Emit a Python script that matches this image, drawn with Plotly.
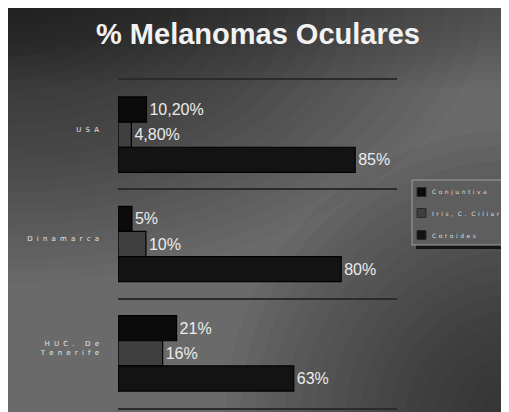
import plotly.graph_objects as go

categories = ["USA", "Dinamarca", "HUC. De<br>Tenerife"]
series_names = ["Conjuntiva", "Iris, C. Ciliar", "Coroides"]
conjuntiva = [10.2, 5, 21]
iris = [4.8, 10, 16]
coroides = [85, 80, 63]
labels_conj = ["10,20%", "5%", "21%"]
labels_iris = ["4,80%", "10%", "16%"]
labels_cor = ["85%", "80%", "63%"]
series_colors = ["#0b0b0b", "#3f3f3f", "#131313"]


def spaced(s, sep, wordsep):
    lines = []
    for line in s.split("<br>"):
        words = [sep.join(list(w)) for w in line.split(" ")]
        lines.append(wordsep.join(words))
    return "<br>".join(lines)


tick_text = [spaced(c, "\u2002\u200a", "\u2003\u2002") for c in categories]

series = [
    (series_names[0], conjuntiva, labels_conj, series_colors[0]),
    (series_names[1], iris, labels_iris, series_colors[1]),
    (series_names[2], coroides, labels_cor, series_colors[2]),
]

fig = go.Figure()
for name, vals, labs, col in series:
    fig.add_trace(go.Bar(
        y=categories, x=vals, orientation="h", name=name,
        text=labs, textposition="outside", cliponaxis=False, constraintext="none",
        textfont=dict(family="Liberation Sans, Arial", size=16, color="#ececec"),
        marker=dict(color=col, line=dict(color="#000000", width=1.2)),
        hoverinfo="x+y", showlegend=False,
    ))

# page body has an 8px margin; reference pixel coords are converted accordingly
OFF = 8
W, H = 509 - OFF, 412 - OFF
L, R, T, B = 118 - OFF, W - (397 - OFF), 80 - OFF, H - (408 - OFF)
pw, ph = W - L - R, H - T - B


def px(x):
    return (x - OFF - L) / pw


def py(y):
    return (H - B - (y - OFF)) / ph


shapes = [
    dict(type="rect", xref="paper", yref="paper", x0=px(0), x1=px(520), y0=py(420), y1=py(0),
         fillcolor="#6a6a6a", line=dict(width=0), layer="below"),
]
# soft vignette: top-left and bottom-right darker
for r in range(20, 380, 15):
    shapes.append(dict(type="circle", xref="paper", yref="paper",
                       x0=px(8 - r * 1.3), x1=px(8 + r * 1.3), y0=py(8 + r * 0.75), y1=py(8 - r * 0.75),
                       fillcolor="#000000", opacity=0.026, line=dict(width=0), layer="below"))
for r in range(20, 300, 15):
    shapes.append(dict(type="circle", xref="paper", yref="paper",
                       x0=px(515 - r), x1=px(515 + r), y0=py(420 + r), y1=py(420 - r),
                       fillcolor="#000000", opacity=0.03, line=dict(width=0), layer="below"))
for yb in range(15, 95, 8):
    shapes.append(dict(type="rect", xref="paper", yref="paper", x0=px(0), x1=px(520),
                       y0=py(yb), y1=py(0), fillcolor="#000000", opacity=0.025,
                       line=dict(width=0), layer="below"))

# legend (drawn by hand so it fits where the reference has it)
LX0, LX1, LY0, LY1 = 412, 503, 180, 245
shapes.append(dict(type="rect", xref="paper", yref="paper", x0=px(LX0 + 4), x1=px(LX1 + 4),
                   y0=py(LY1 + 4), y1=py(LY0 + 4), fillcolor="#151515", line=dict(width=0), layer="above"))
shapes.append(dict(type="rect", xref="paper", yref="paper", x0=px(LX0), x1=px(LX1),
                   y0=py(LY1), y1=py(LY0), fillcolor="#5e5e5e",
                   line=dict(color="#a0a0a0", width=1), layer="above"))
annotations = []
item_y = [192, 213, 235]
for name, col, yc in zip(series_names, series_colors, item_y):
    shapes.append(dict(type="rect", xref="paper", yref="paper", x0=px(417), x1=px(426),
                       y0=py(yc + 4.5), y1=py(yc - 4.5), fillcolor=col,
                       line=dict(color="#2a2a2a", width=1), layer="above"))
    annotations.append(dict(xref="paper", yref="paper", x=px(430), y=py(yc), xanchor="left",
                            yanchor="middle", showarrow=False,
                            text=spaced(name, " \u200a", "\u2002 "),
                            font=dict(family="DejaVu Sans", size=6, color="#dddddd")))

fig.update_layout(
    width=W, height=H,
    margin=dict(l=L, r=R, t=T, b=B, autoexpand=False),
    paper_bgcolor="#ffffff",
    plot_bgcolor="rgba(0,0,0,0)",
    barmode="group", bargap=0.31, bargroupgap=0,
    title=dict(text="<b>% Melanomas Oculares</b>", x=(258 - OFF) / W, xanchor="center", xref="container",
               y=1 - (34 - OFF) / H, yanchor="middle",
               font=dict(family="Liberation Sans, Arial", size=29, color="#f2f2f2")),
    xaxis=dict(range=[0, 100], showticklabels=False, showgrid=False, zeroline=False, ticks="",
               showline=True, mirror=True, linecolor="#2b2b2b", linewidth=1.5, fixedrange=True),
    yaxis=dict(autorange="reversed", tickson="boundaries", showgrid=True, gridcolor="#2b2b2b",
               gridwidth=1.5, zeroline=False, showline=False, ticks="",
               tickmode="array", tickvals=categories, ticktext=tick_text,
               tickfont=dict(family="DejaVu Sans", size=7, color="#e6e6e6"),
               ticklabelstandoff=18, ticklabelshift=5),
    showlegend=False,
    shapes=shapes,
    annotations=annotations,
)

fig.write_html("out.html", post_script="document.body.style.overflow='hidden';")
